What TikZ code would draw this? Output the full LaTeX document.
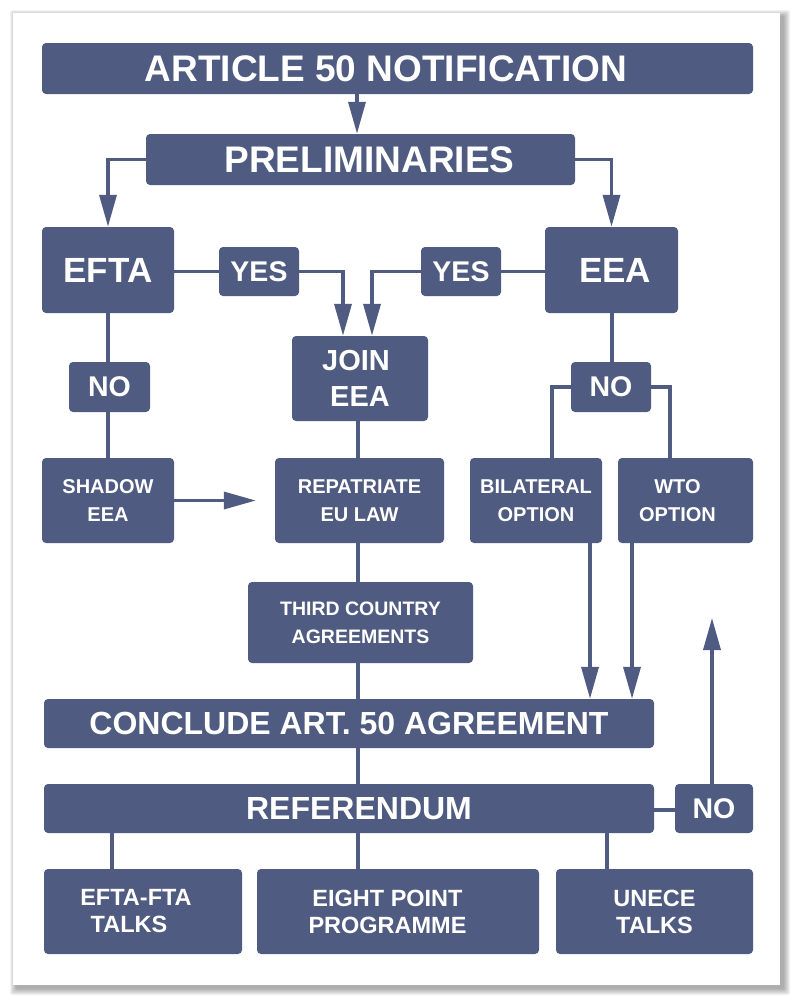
\documentclass[tikz,border=0pt]{standalone}
\usepackage{fontspec}
\setmainfont{Liberation Sans}
\usetikzlibrary{arrows.meta}
\definecolor{boxc}{RGB}{79,91,128}
\pgfdeclarelayer{bg}
\pgfdeclarelayer{page}
\pgfsetlayers{page,bg,main}
\newcommand\fs[2]{\fontsize{#1}{#2}\selectfont}
\begin{document}
\begin{tikzpicture}[x=1pt,y=-1pt,
  box/.style={fill=boxc, rounded corners=4pt, text=white, align=center, inner sep=0pt},
  fA/.style={font=\bfseries\fs{37}{40}},
  fB/.style={font=\bfseries\fs{32}{36}},
  fC/.style={font=\bfseries\fs{28.5}{36}},
  fD/.style={font=\bfseries\fs{20}{28}},
  fE/.style={font=\bfseries\fs{23.5}{27}},
  ln/.style={draw=boxc, line width=3.5pt},
  arr/.style={ln, -{Triangle[length=32pt,width=17pt]}}]
\useasboundingbox (0,0) rectangle (800,1005);
% page with shadow
\begin{pgfonlayer}{page}
\fill[white] (0,0) rectangle (800,1005);
\foreach \k in {0,...,6}
  \fill[black, opacity=0.05, rounded corners=2pt] (16-\k,16-\k) rectangle (784+\k,989+\k);
\fill[white] (13,13) rectangle (780,985);
\end{pgfonlayer}
\coordinate (sp) at (358,0);
% nodes
\node[box, fA, minimum width=711pt, minimum height=51pt] (art) at (397.5,68.5) {\hspace*{-23pt}ARTICLE 50 NOTIFICATION};
\node[box, fA, minimum width=429pt, minimum height=51pt] (prel) at (360.5,159.5) {\hspace*{18pt}PRELIMINARIES};
\node[box, font=\bfseries\fs{35}{40}, minimum width=132pt, minimum height=86pt] (efta) at (108,270) {EFTA};
\node[box, font=\bfseries\fs{35}{40}, minimum width=133pt, minimum height=86pt] (eea) at (611.5,270) {\hspace*{7pt}EEA};
\node[box, fC, minimum width=80pt, minimum height=49pt] (yes1) at (259,271.5) {YES};
\node[box, fC, minimum width=80pt, minimum height=49pt] (yes2) at (461,271.5) {YES};
\node[box, font=\bfseries\fs{29}{36}, minimum width=136pt, minimum height=85pt] (join) at (360,378.5) {\hspace*{-8pt}JOIN\\EEA};
\node[box, fC, minimum width=81pt, minimum height=50pt] (no1) at (109.5,387) {NO};
\node[box, fC, minimum width=80pt, minimum height=50pt] (no2) at (611,387) {NO};
\node[box, fD, minimum width=132pt, minimum height=85pt] (shadow) at (108,500.5) {SHADOW\\EEA};
\node[box, fD, minimum width=169pt, minimum height=85pt] (repat) at (359.5,500.5) {REPATRIATE\\EU LAW};
\node[box, fD, minimum width=132pt, minimum height=85pt] (bilat) at (536,500.5) {BILATERAL\\OPTION};
\node[box, fD, minimum width=135pt, minimum height=85pt] (wto) at (685.5,500.5) {\hspace*{-16pt}WTO\\\hspace*{-16pt}OPTION};
\node[box, font=\bfseries\fs{19.5}{28}, minimum width=225pt, minimum height=81pt] (third) at (360.5,622.5) {THIRD COUNTRY\\AGREEMENTS};
\node[box, fB, minimum width=610pt, minimum height=49pt] (concl) at (349,723.5) {CONCLUDE ART. 50 AGREEMENT};
\node[box, fB, minimum width=610pt, minimum height=49pt] (ref) at (349,808.5) {\hspace*{20pt}REFERENDUM};
\node[box, fC, minimum width=78pt, minimum height=49pt] (no3) at (714,808.5) {NO};
\node[box, fE, minimum width=198pt, minimum height=85pt] (b1) at (143,911.5) {\hspace*{-14pt}EFTA-FTA\\\hspace*{-28pt}TALKS};
\node[box, fE, minimum width=282pt, minimum height=85pt] (b2) at (398,911.5) {\hspace*{-21pt}EIGHT POINT\\\hspace*{-21pt}PROGRAMME};
\node[box, fE, minimum width=197pt, minimum height=85pt] (b3) at (654.5,911.5) {UNECE\\TALKS};
\coordinate (up) at (712,618);
% connectors
\begin{pgfonlayer}{bg}
\draw[arr] (art.south -| 357,0) -- (prel.north -| 357,0);
\draw[arr] (prel.west) -| (efta.north);
\draw[arr] (prel.east) -| (eea.north);
\draw[ln] (yes1.west -| efta.east) -- (yes1.west);
\draw[arr] (yes1.east) -| (join.north -| 343,0);
\draw[ln] (yes2.east) -- (yes2.east -| eea.west);
\draw[arr] (yes2.west) -| (join.north -| 372,0);
\draw[ln] (efta.south) -- (shadow.north);
\draw[arr] (shadow.east) -- ([xshift=-19pt]repat.west);
\draw[ln] (join.south -| sp) -- (repat.north -| sp);
\draw[ln] (repat.south -| sp) -- (third.north -| sp);
\draw[ln] (third.south -| sp) -- (concl.north -| sp);
\draw[ln] (concl.south -| sp) -- (ref.north -| sp);
\draw[ln] (eea.south -| 612,0) -- (no2.north -| 612,0);
\draw[ln] (no2.west) -| (bilat.north -| 552,0);
\draw[ln] (no2.east) -| (wto.north -| 670,0);
\draw[arr] (bilat.south -| 590,0) -- (concl.north -| 590,0);
\draw[arr] (wto.south -| 632,0) -- (concl.north -| 632,0);
\draw[ln] (ref.east |- 0,810) -- (no3.west |- 0,810);
\draw[arr] (no3.north -| up) -- (up);
\draw[ln] (ref.south -| 112,0) -- (b1.north -| 112,0);
\draw[ln] (ref.south -| sp) -- (b2.north -| sp);
\draw[ln] (ref.south -| 607,0) -- (b3.north -| 607,0);
\end{pgfonlayer}
\end{tikzpicture}
\end{document}
